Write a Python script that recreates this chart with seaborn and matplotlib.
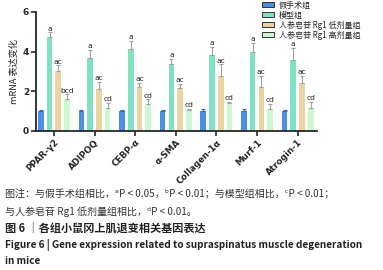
import numpy as np
import pandas as pd
import matplotlib
matplotlib.use("Agg")
import matplotlib.pyplot as plt
import seaborn as sns
from matplotlib.patches import Patch

genes = ["PPAR-γ2", "ADIPOQ", "CEBP-α", "α-SMA", "Collagen-1α", "Murf-1", "Atrogin-1"]
groups = ["假手术组", "模型组", "人参皂苷 Rg1 低剂量组", "人参皂苷 Rg1 高剂量组"]

sham = [1.00, 1.00, 1.00, 1.00, 1.01, 1.00, 1.00]
sham_err = [0.07, 0.08, 0.04, 0.08, 0.09, 0.09, 0.08]
model = [4.75, 3.70, 4.11, 3.37, 3.84, 3.97, 3.57]
model_err = [0.22, 0.38, 0.42, 0.27, 0.40, 0.47, 0.62]
low = [3.03, 2.09, 2.19, 2.16, 2.78, 2.22, 2.42]
low_err = [0.27, 0.39, 0.23, 0.20, 0.57, 0.54, 0.36]
high = [1.60, 1.18, 1.35, 1.04, 1.40, 1.13, 1.16]
high_err = [0.24, 0.23, 0.25, 0.06, 0.05, 0.22, 0.30]

sham_sig = ["", "", "", "", "", "", ""]
model_sig = ["a", "a", "a", "a", "a", "a", "a"]
low_sig = ["ac", "ac", "ac", "ac", "ac", "ac", "ac"]
high_sig = ["bcd", "cd", "cd", "cd", "cd", "cd", "cd"]

colors = ["#4b8fe6", "#80e0c4", "#e9d4a2", "#ccf8d0"]
err_colors = ["#3a6aa8", "#a0a0a0", "#a0a0a0", "#a0a0a0"]

values = [sham, model, low, high]
errs = [sham_err, model_err, low_err, high_err]
sigs = [sham_sig, model_sig, low_sig, high_sig]

rows = []
for g, vals in zip(groups, values):
    for gene, v in zip(genes, vals):
        rows.append({"gene": gene, "group": g, "value": v})
df = pd.DataFrame(rows)

sns.set_style("ticks")
cjk = ["Noto Sans CJK SC", "DejaVu Sans"]
plt.rcParams["font.family"] = cjk

fig = plt.figure(figsize=(3.83, 2.70), dpi=100)
ax = fig.add_axes([0.094, 0.515, 0.734, 0.441])

sns.barplot(data=df, x="gene", y="value", hue="group", hue_order=groups,
            palette=colors, width=0.86, gap=0.36, errorbar=None,
            legend=False, ax=ax, linewidth=0, saturation=1)

bar_containers = list(ax.containers)
for ci, cont in enumerate(bar_containers):
    xs = [b.get_x() + b.get_width() / 2 for b in cont.patches]
    vals = values[ci]
    ax.errorbar(xs, vals, yerr=[np.zeros(len(vals)), errs[ci]], fmt="none",
                ecolor=err_colors[ci], elinewidth=0.8, capsize=1.6, capthick=0.8)
    for x, v, e, s in zip(xs, vals, errs[ci], sigs[ci]):
        if s:
            ax.annotate(s, (x, v + e), xytext=(0, 0.5), textcoords="offset points",
                        ha="center", va="bottom", fontsize=5.4, color="#222222",
                        family=["DejaVu Sans"])

ax.set_ylim(0, 6)
ax.set_yticks([0, 2, 4, 6])
ax.set_xlim(-0.44, 6.48)
ax.set_xlabel("")
ax.set_ylabel("mRNA 表达变化", fontsize=6.6, labelpad=3)
sns.despine(ax=ax)
for sp in ["left", "bottom"]:
    ax.spines[sp].set_linewidth(1.3)
ax.tick_params(axis="both", width=1.2, length=3.5, labelsize=6.5, pad=1.5)
for lab in ax.get_yticklabels():
    lab.set_fontweight("bold")
    lab.set_family(["DejaVu Sans"])
ax.set_xticks(range(len(genes)))
ax.set_xticklabels(genes, rotation=45, ha="right", rotation_mode="anchor",
                   fontsize=6.3, fontweight="bold", family=["DejaVu Sans"])

handles = [Patch(facecolor=c, edgecolor="#333333", linewidth=0.7) for c in colors]
fig.legend(handles, groups, loc="upper left", bbox_to_anchor=(0.684, 0.998),
           frameon=False, fontsize=5.8, handlelength=1.5, handleheight=0.65,
           labelspacing=0.12, handletextpad=0.6, borderpad=0.0, borderaxespad=0.0)

fig.text(0.012, 0.282, "图注：与假手术组相比，ᵃP < 0.05，ᵇP < 0.01；与模型组相比，ᶜP < 0.01；",
         fontsize=7.2, color="#333333", va="center", ha="left", family=cjk)
fig.text(0.012, 0.215, "与人参皂苷 Rg1 低剂量组相比，ᵈP < 0.01。",
         fontsize=7.2, color="#333333", va="center", ha="left", family=cjk)
fig.text(0.012, 0.155, "图 6 ｜各组小鼠冈上肌退变相关基因表达",
         fontsize=8.0, color="#222222", va="center", ha="left", fontweight="bold", family=cjk)
fig.text(0.012, 0.093, "Figure 6 | Gene expression related to supraspinatus muscle degeneration",
         fontsize=7.2, color="#222222", va="center", ha="left", fontweight="bold", family=cjk)
fig.text(0.012, 0.033, "in mice",
         fontsize=7.2, color="#222222", va="center", ha="left", fontweight="bold", family=cjk)

fig.savefig("out.png", dpi=100)
